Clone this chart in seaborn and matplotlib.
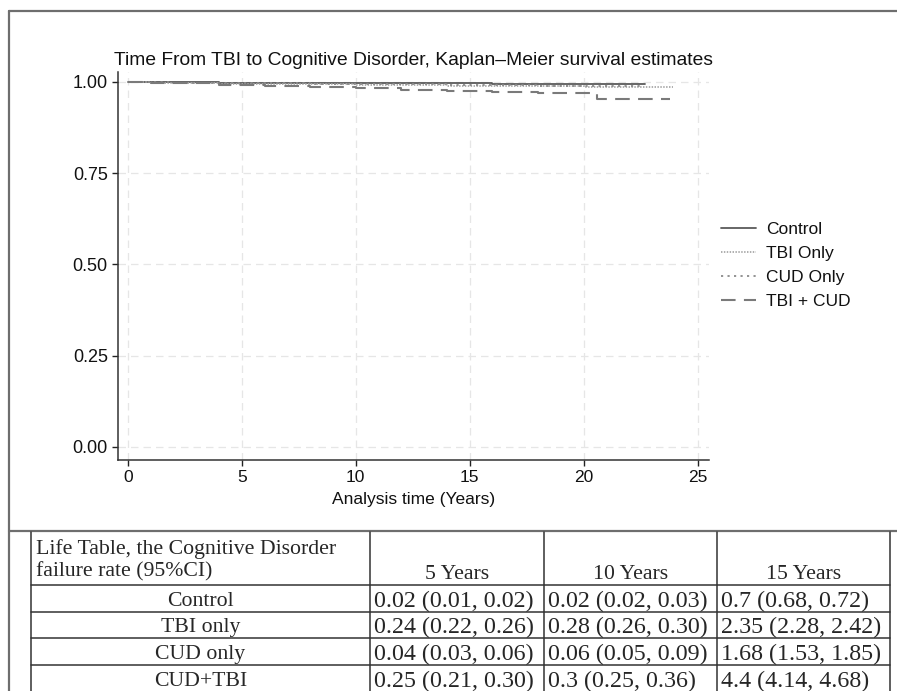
import numpy as np
import pandas as pd
import matplotlib
matplotlib.use("Agg")
import matplotlib.pyplot as plt
from matplotlib.lines import Line2D
import seaborn as sns

# --- dados ---
groups = ["Control", "TBI Only", "CUD Only", "TBI + CUD"]

t_control = [0, 1, 2, 4, 6, 8, 10, 12, 14, 16, 18, 20, 22.7]
s_control = [1.0, 0.9995, 0.999, 0.998, 0.9975, 0.997, 0.9965, 0.996, 0.9955, 0.995, 0.9945, 0.994, 0.994]

t_tbi = [0, 1, 2, 4, 6, 8, 10, 12, 14, 16, 18, 20, 22, 23.9]
s_tbi = [1.0, 0.998, 0.997, 0.995, 0.994, 0.993, 0.992, 0.991, 0.990, 0.989, 0.988, 0.987, 0.986, 0.986]

t_cud = [0, 1, 2, 4, 6, 8, 10, 12, 14, 16, 18, 20, 22.6]
s_cud = [1.0, 0.999, 0.998, 0.997, 0.996, 0.995, 0.994, 0.993, 0.992, 0.991, 0.990, 0.989, 0.989]

t_both = [0, 1, 2, 4, 6, 8, 10, 12, 14, 16, 18, 20.6, 23.8]
s_both = [1.0, 0.998, 0.996, 0.992, 0.989, 0.985, 0.982, 0.979, 0.976, 0.973, 0.970, 0.954, 0.954]

table_header = ["Life Table, the Cognitive Disorder\nfailure rate (95%CI)", "5 Years", "10 Years", "15 Years"]
table_rows = ["Control", "TBI only", "CUD only", "CUD+TBI"]
rate_5y = ["0.02 (0.01, 0.02)", "0.24 (0.22, 0.26)", "0.04 (0.03, 0.06)", "0.25 (0.21, 0.30)"]
rate_10y = ["0.02 (0.02, 0.03)", "0.28 (0.26, 0.30)", "0.06 (0.05, 0.09)", "0.3 (0.25, 0.36)"]
rate_15y = ["0.7 (0.68, 0.72)", "2.35 (2.28, 2.42)", "1.68 (1.53, 1.85)", "4.4 (4.14, 4.68)"]

# --- estilo ---
sns.set_theme(style="whitegrid", rc={"grid.linestyle": (0, (6, 4)), "grid.color": "#e6e6e6",
                                      "grid.linewidth": 0.9})
plt.rcParams["font.family"] = ["Liberation Sans", "DejaVu Sans"]

W, H = 897, 691
fig = plt.figure(figsize=(W / 100, H / 100), dpi=100)
fig.patch.set_facecolor("white")

def fx(px):
    return px / W

def fy(py):
    return 1 - py / H

ax = fig.add_axes([fx(117.5), fy(460), fx(709) - fx(117.5), fy(72) - fy(460)])

styles = {
    "Control": dict(color="#5a5a5a", ls="-", lw=1.3),
    "TBI Only": dict(color="#a8a8a8", ls=(0, (0.8, 0.8)), lw=1.3),
    "CUD Only": dict(color="#8a8a8a", ls=(0, (1.2, 2.4)), lw=1.3),
    "TBI + CUD": dict(color="#7a7a7a", ls=(0, (7, 4)), lw=1.5),
}
series = {
    "Control": (t_control, s_control),
    "TBI Only": (t_tbi, s_tbi),
    "CUD Only": (t_cud, s_cud),
    "TBI + CUD": (t_both, s_both),
}

handles = []
for g in groups:
    t, s = series[g]
    st = styles[g]
    sns.lineplot(x=t, y=s, ax=ax, estimator=None, drawstyle="steps-post",
                 color=st["color"], linewidth=st["lw"])
    ax.lines[-1].set_linestyle(st["ls"])
    handles.append(Line2D([], [], color=st["color"], lw=st["lw"], ls=st["ls"], label=g))

ax.set_xlim(-0.45, 25.5)
ax.set_ylim(-0.036, 1.027)
ax.set_xticks([0, 5, 10, 15, 20, 25])
ax.set_yticks([0, 0.25, 0.5, 0.75, 1.0])
ax.set_yticklabels([f"{v:.2f}" for v in [0, 0.25, 0.5, 0.75, 1.0]])
ax.tick_params(axis="both", labelsize=12.5, colors="#222222", length=4.5, width=1,
               direction="out", left=True, bottom=True, pad=2.5)
ax.tick_params(axis="y", labelsize=13)
ax.tick_params(axis="both", labelcolor="#111111")
for side in ["top", "right"]:
    ax.spines[side].set_visible(False)
for side in ["left", "bottom"]:
    ax.spines[side].set_color("#333333")
    ax.spines[side].set_linewidth(1.1)
ax.set_xlabel("Analysis time (Years)", fontsize=12.5, color="#111111", labelpad=5)
ax.set_ylabel("")
ax.set_title("Time From TBI to Cognitive Disorder, Kaplan\u2013Meier survival estimates",
             fontsize=13.9, color="#111111", pad=5)

leg = fig.legend(handles=handles, loc="upper left", bbox_to_anchor=(fx(721), fy(222)),
                 frameon=False, fontsize=12.5, handlelength=2.0, handletextpad=0.6,
                 labelspacing=0.5, borderpad=0, borderaxespad=0)
for txt in leg.get_texts():
    txt.set_color("#111111")

# --- moldura externa ---
frame_c = "#6e6e6e"
fig.add_artist(Line2D([fx(9), fx(897)], [fy(11), fy(11)], color=frame_c, lw=1.6))
fig.add_artist(Line2D([fx(9), fx(9)], [fy(11), fy(691)], color=frame_c, lw=1.6))
fig.add_artist(Line2D([fx(9), fx(897)], [fy(531), fy(531)], color=frame_c, lw=1.6))

# --- tabela ---
col_x = [31, 370, 544, 717, 890]
row_y = [532, 585, 612, 638, 665, 692]
tab_c = "#333333"
for x in col_x:
    fig.add_artist(Line2D([fx(x), fx(x)], [fy(row_y[0]), fy(row_y[-1])], color=tab_c, lw=1.1))
for y in row_y[1:]:
    fig.add_artist(Line2D([fx(col_x[0]), fx(col_x[-1])], [fy(y), fy(y)], color=tab_c, lw=1.1))

serif = ["Liberation Serif", "DejaVu Serif"]
hsize = 15.7
dsize = 17.3
fig.text(fx(36), fy(539), table_header[0], ha="left", va="top", family=serif,
         fontsize=hsize, linespacing=1.2)
for j in range(1, 4):
    cx = (col_x[j] + col_x[j + 1]) / 2
    fig.text(fx(cx), fy(579), table_header[j], ha="center", va="baseline", family=serif, fontsize=hsize)

for i, name in enumerate(table_rows):
    yc = (row_y[i + 1] + row_y[i + 2]) / 2
    fig.text(fx((col_x[0] + col_x[1]) / 2), fy(yc), name, ha="center", va="center_baseline",
             family=serif, fontsize=hsize)
    for j, vals in enumerate([rate_5y, rate_10y, rate_15y]):
        fig.text(fx(col_x[j + 1] + 4), fy(yc), vals[i], ha="left", va="center_baseline",
                 family=serif, fontsize=dsize)

fig.savefig("out.png", dpi=100, facecolor="white")
